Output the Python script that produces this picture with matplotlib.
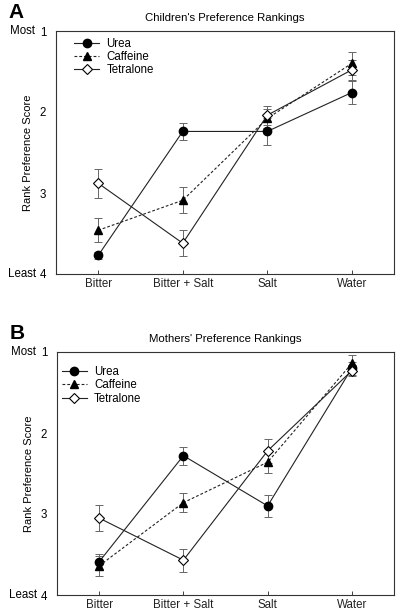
import matplotlib
matplotlib.use("Agg")
import matplotlib.pyplot as plt

plt.rcParams['font.family'] = ['Liberation Sans', 'DejaVu Sans']

categories = ["Bitter", "Bitter + Salt", "Salt", "Water"]
series_names = ["Urea", "Caffeine", "Tetralone"]

# Children's (panel A)
child_urea = [3.77, 2.24, 2.24, 1.76]
child_urea_err = [0.04, 0.11, 0.17, 0.14]
child_caffeine = [3.46, 3.09, 2.08, 1.40]
child_caffeine_err = [0.15, 0.16, 0.12, 0.14]
child_tetralone = [2.88, 3.62, 2.04, 1.48]
child_tetralone_err = [0.18, 0.16, 0.12, 0.12]

# Mothers' (panel B)
mom_urea = [3.59, 2.28, 2.90, 1.20]
mom_urea_err = [0.10, 0.11, 0.14, 0.08]
mom_caffeine = [3.64, 2.86, 2.36, 1.14]
mom_caffeine_err = [0.12, 0.12, 0.13, 0.10]
mom_tetralone = [3.05, 3.57, 2.22, 1.23]
mom_tetralone_err = [0.16, 0.14, 0.15, 0.07]

ytick_vals = [1, 2, 3, 4]
ytick_labels = ["1", "2", "3", "4"]

fig = plt.figure(figsize=(4.0, 6.14), dpi=100)
axA = fig.add_axes([56/400, 1-274/614, 338/400, 243/614])
axB = fig.add_axes([57/400, 1-595/614, 337/400, 243/614])

styles = {
    "Urea": dict(marker='o', mfc='black', mec='black', ls='-', ms=6),
    "Caffeine": dict(marker='^', mfc='black', mec='black', ls=(0, (2.5, 1.8)), ms=6),
    "Tetralone": dict(marker='D', mfc='white', mec='black', ls='-', ms=5, mew=0.8),
}

def draw(ax, data, title, label, leg_pos):
    x = list(range(len(categories)))
    for name, (vals, errs) in zip(series_names, data):
        ax.errorbar(x, vals, yerr=errs, fmt='none', ecolor='#666666',
                    elinewidth=0.7, capsize=3, capthick=0.7, zorder=1)
    handles = []
    for name, (vals, errs) in zip(series_names, data):
        st = styles[name]
        h, = ax.plot(x, vals, color='#222222', lw=0.8, zorder=2, label=name, **st)
        handles.append(h)
    ax.set_xlim(-0.5, 3.5)
    ax.set_ylim(4, 1)
    ax.set_xticks(x)
    ax.set_xticklabels(categories, fontsize=8.3)
    ax.set_yticks(ytick_vals)
    ax.set_yticklabels(ytick_labels, fontsize=8.3)
    ax.tick_params(axis='x', direction='in', length=3, width=0.6, pad=3, colors='#222222')
    ax.tick_params(axis='y', direction='in', length=0, pad=7)
    for sp in ax.spines.values():
        sp.set_linewidth(0.8)
        sp.set_color('#333333')
    ax.set_ylabel("Rank Preference Score", fontsize=8, labelpad=5)
    ax.set_title(title, fontsize=8.2, pad=7)
    ax.text(-0.136, 1.0, "Most", transform=ax.transAxes, fontsize=8.3, ha='left', va='center')
    ax.text(-0.142, 0.0, "Least", transform=ax.transAxes, fontsize=8.3, ha='left', va='center')
    ax.text(-0.142, 1.075, label, transform=ax.transAxes, fontsize=15, fontweight='bold',
            ha='left', va='center')
    ax.legend(handles=handles, loc='upper left', bbox_to_anchor=leg_pos, frameon=False,
              fontsize=8.3, handlelength=2.2, handletextpad=0.6, labelspacing=0.1,
              borderaxespad=0.0)

draw(axA, [(child_urea, child_urea_err), (child_caffeine, child_caffeine_err),
           (child_tetralone, child_tetralone_err)],
     "Children's Preference Rankings", "A", (0.04, 0.99))
draw(axB, [(mom_urea, mom_urea_err), (mom_caffeine, mom_caffeine_err),
           (mom_tetralone, mom_tetralone_err)],
     "Mothers' Preference Rankings", "B", (0.0, 0.96))

fig.savefig("out.png", dpi=100)
